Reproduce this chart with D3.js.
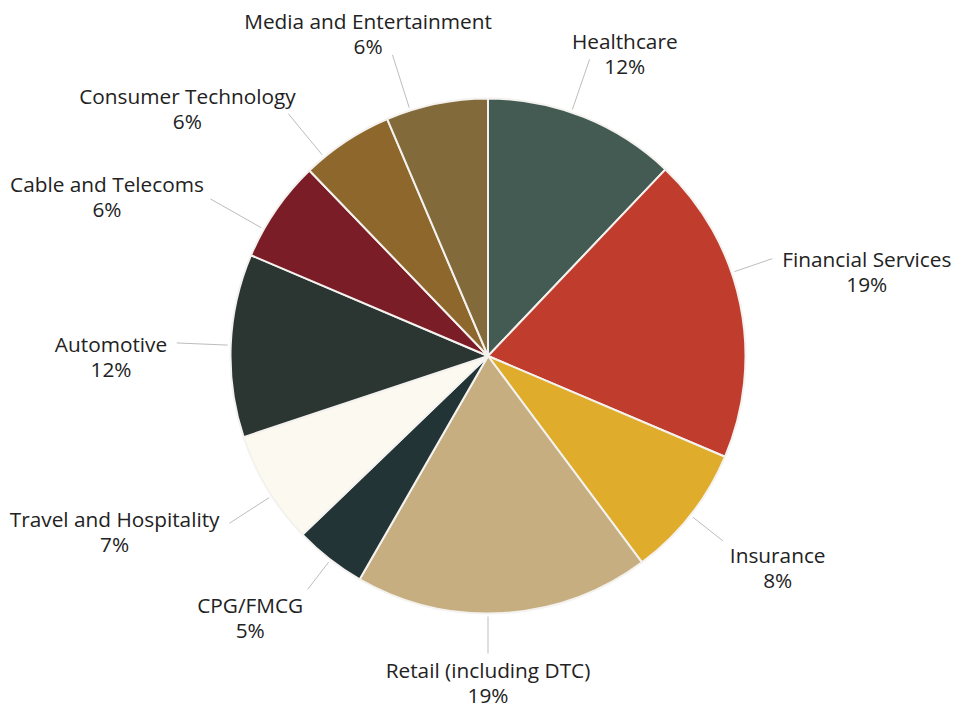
<!DOCTYPE html>
<html>
<head>
<meta charset="utf-8">
<script src="https://cdn.jsdelivr.net/npm/d3@7"></script>
<style>
  body { margin: 0; background: #ffffff; }
  svg { display: block; }
</style>
</head>
<body>
<svg id="chart" width="954" height="710"></svg>
<script>
// Share of work by industry sector, clockwise from 12 o'clock
const sectors = [
  "Healthcare",
  "Financial Services",
  "Insurance",
  "Retail (including DTC)",
  "CPG/FMCG",
  "Travel and Hospitality",
  "Automotive",
  "Cable and Telecoms",
  "Consumer Technology",
  "Media and Entertainment"
];
const shares = [12.1, 19.3, 8.4, 18.5, 4.5, 7.1, 11.5, 6.4, 5.8, 6.4];
const sliceColors = [
  "#435b52", "#c03c2d", "#dfac2b", "#c6ae80", "#233436",
  "#fcf9f1", "#2b3632", "#7a1d26", "#8d672b", "#826a3a"
];

// Label layout, in degrees clockwise from 12 o'clock and in pixels from
// the centre: direction of each leader line, and where each label block sits.
const leaderAngles   = [18.9, 71.1, 128.2, 180, 217.7, 237.1, 272.4, 299.5, 320.5, 342.4];
const labelAngles    = [24.4, 77.5, 126.2, 180, 222.2, 244.7, 269.9, 292.7, 309.4, 339.6];
const labelDistances = [331, 388, 359, 327, 354, 413, 377, 413, 389, 344];

const width = 954, height = 710;
const cx = 488, cy = 356;
const radius = 257.5;
const fontSize = 20.8, lineGap = 25, capHeight = 0.714 * fontSize;
const leaderStart = radius + 3;
const leaderGap = 10;

const svg = d3.select("#chart");
const g = svg.append("g").attr("transform", `translate(${cx},${cy})`);

const data = sectors.map((name, i) => ({ name, value: shares[i], color: sliceColors[i], i }));

const pie = d3.pie().sort(null).value(d => d.value);
const arc = d3.arc().innerRadius(0).outerRadius(radius);
const arcs = pie(data);

g.append("g")
  .selectAll("path")
  .data(arcs)
  .join("path")
  .attr("d", arc)
  .attr("fill", d => d.data.color)
  .attr("stroke", "#f4f2ef")
  .attr("stroke-width", 2)
  .attr("stroke-linejoin", "round");

const fmt = v => `${Math.round(v)}%`;
const rad = deg => deg * Math.PI / 180;
const dir = deg => [Math.sin(rad(deg)), -Math.cos(rad(deg))];

const labelLayer = g.append("g")
  .attr("font-family", "'Open Sans', sans-serif")
  .attr("font-size", fontSize)
  .attr("fill", "#222222")
  .attr("text-anchor", "middle");

const leaderLayer = g.insert("g", () => labelLayer.node())
  .attr("stroke", "#bdbdbd")
  .attr("stroke-width", 1)
  .attr("fill", "none");

arcs.forEach((a, i) => {
  const lines = [a.data.name, fmt(a.data.value)];
  const text = labelLayer.append("text");
  const spans = lines.map((s, k) =>
    text.append("tspan").attr("x", 0).attr("y", k * lineGap).text(s));
  const widths = spans.map(s => s.node().getComputedTextLength());
  const h = capHeight + lineGap;          // cap top of first line to baseline of second

  // Centre of the label block
  const [ux, uy] = dir(labelAngles[i]);
  const bx = ux * labelDistances[i], by = uy * labelDistances[i];
  const base1 = by - h / 2 + capHeight;
  text.attr("transform", `translate(${bx},${base1})`);

  // Per-line boxes used to stop the leader short of the text
  const boxes = widths.map((lw, k) => ({
    x0: bx - lw / 2, x1: bx + lw / 2,
    y0: base1 + k * lineGap - capHeight, y1: base1 + k * lineGap
  }));
  const distToBox = (px, py, b) => Math.hypot(
    Math.max(b.x0 - px, 0, px - b.x1),
    Math.max(b.y0 - py, 0, py - b.y1));

  const [lx, ly] = dir(leaderAngles[i]);
  let t = leaderStart;
  while (t < radius + 120) {
    const px = lx * t, py = ly * t;
    if (d3.min(boxes, b => distToBox(px, py, b)) <= leaderGap) break;
    t += 0.5;
  }
  leaderLayer.append("line")
    .attr("x1", lx * leaderStart).attr("y1", ly * leaderStart)
    .attr("x2", lx * t).attr("y2", ly * t);
});
</script>
</body>
</html>
